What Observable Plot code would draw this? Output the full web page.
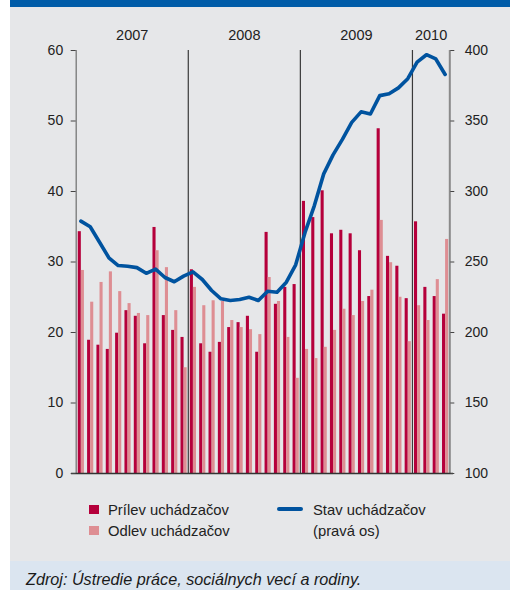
<!DOCTYPE html>
<html>
<head>
<meta charset="utf-8">
<script src="https://cdn.jsdelivr.net/npm/d3@7"></script>
<script src="https://cdn.jsdelivr.net/npm/@observablehq/plot@0.6"></script>
<style>
  html, body { margin: 0; padding: 0; background: #ffffff; }
  #page { position: relative; width: 510px; height: 590px; overflow: hidden; font-family: "Liberation Sans", Arial, sans-serif; color: #222; }
  #bg { position: absolute; left: 10px; top: 0; width: 500px; height: 590px; background: #e6e7e9; }
  #band { position: absolute; left: 10px; top: 0; width: 500px; height: 7px; background: #005ca8; }
  #foot { position: absolute; left: 10px; top: 561px; width: 500px; height: 29px; background: #dbe5f0; }
  #chart { position: absolute; left: 0; top: 0; }
  .lg { position: absolute; font-size: 14.8px; line-height: 16px; white-space: nowrap; color: #222; }
  .sw { position: absolute; }
  #cap { position: absolute; left: 26px; top: 570px; font-size: 16.2px; font-style: italic; line-height: 18px; color: #1a1a1a; white-space: nowrap; font-family: "Liberation Sans", Arial, sans-serif; }
</style>
</head>
<body>
<div id="page">
  <div id="bg"></div>
  <div id="band"></div>
  <div id="foot"></div>
  <div id="chart"></div>
  <div class="sw" style="left:89px;top:505px;width:10px;height:9px;background:#b5003b"></div>
  <div class="lg" style="left:108px;top:502px">Prílev uchádzačov</div>
  <div class="sw" style="left:89px;top:526px;width:10px;height:9px;background:#de8e93"></div>
  <div class="lg" style="left:108px;top:523px">Odlev uchádzačov</div>
  <div class="sw" style="left:277px;top:507px;width:26px;height:3.5px;background:#00539f;border-radius:2px"></div>
  <div class="lg" style="left:313px;top:502px">Stav uchádzačov</div>
  <div class="lg" style="left:313px;top:523px">(pravá os)</div>
  <div id="cap">Zdroj: Ústredie práce, sociálnych vecí a rodiny.</div>
</div>
<script>
const years = ["2007", "2008", "2009", "2010"];
const monthsPerYear = [12, 12, 12, 4];

const prilev = [34.3, 18.9, 18.2, 17.6, 19.9, 23.1, 22.3, 18.4, 34.9, 22.4, 20.3, 19.3,
                28.9, 18.4, 17.2, 18.6, 20.7, 21.4, 22.3, 17.2, 34.2, 24.0, 26.4, 26.8,
                38.6, 36.3, 40.1, 34.0, 34.5, 34.0, 31.6, 25.1, 48.9, 30.8, 29.4, 24.8,
                35.7, 26.4, 25.1, 22.6];
const odlev  = [28.8, 24.3, 27.1, 28.6, 25.8, 24.1, 22.7, 22.4, 31.6, 29.2, 23.1, 15.0,
                26.4, 23.8, 24.5, 24.4, 21.7, 20.7, 20.4, 19.7, 27.8, 24.4, 19.3, 13.5,
                17.6, 16.3, 17.9, 20.3, 23.3, 22.4, 24.4, 26.0, 35.9, 29.9, 25.0, 18.7,
                23.8, 21.7, 27.5, 33.2];
const stav   = [279, 275, 264, 253, 247.5, 247, 246, 242, 245, 239, 236, 240,
                243, 237.6, 229.8, 223.9, 222.7, 223.4, 225, 222.7, 229.3, 228.6, 235.7, 248,
                271, 290, 312.5, 326, 337, 349, 356.5, 355, 368, 369.3, 373.5, 380,
                391.7, 397, 394, 383];

const leftTicks = [0, 10, 20, 30, 40, 50, 60];
const rightTicks = [100, 150, 200, 250, 300, 350, 400];

const data = prilev.map((p, i) => ({i, prilev: p, odlev: odlev[i], stav: stav[i]}));
const nMonths = data.length;

let acc = 0;
const yearInfo = years.map((y, k) => {
  const start = acc; acc += monthsPerYear[k];
  return {year: y, start, end: acc, mid: (start + acc) / 2};
});
const dividers = yearInfo.slice(1).map(d => d.start);

const toLeft = v => (v - 100) / 5;

const plot = Plot.plot({
  width: 510,
  height: 490,
  marginLeft: 75.7,
  marginRight: 60.7,
  marginTop: 50,
  marginBottom: 17,
  style: {background: "transparent", fontFamily: "Liberation Sans, Arial, sans-serif", fontSize: "14px", color: "#222"},
  x: {domain: [0, nMonths], axis: null},
  y: {domain: [0, 60], axis: null},
  marks: [
    Plot.rectY(data, {x1: d => d.i + 0.22, x2: d => d.i + 0.55, y1: 0, y2: "prilev", fill: "#b5003b"}),
    Plot.rectY(data, {x1: d => d.i + 0.55, x2: d => d.i + 0.88, y1: 0, y2: "odlev", fill: "#de8e93"}),
    Plot.ruleX(dividers, {y1: 0, y2: 60, stroke: "#3a3a3a", strokeWidth: 1.2}),
    Plot.ruleX([0], {y1: 0, y2: 60, stroke: "#777", strokeWidth: 1.3}),
    Plot.ruleX([nMonths], {y1: 0, y2: 60, stroke: "#8a8a8a", strokeWidth: 2}),
    Plot.ruleY([0], {x1: -0.5, x2: nMonths + 0.4, stroke: "#333", strokeWidth: 1.5}),
    Plot.line(data, {x: d => d.i + 0.5, y: d => toLeft(d.stav), stroke: "#00539f", strokeWidth: 3.6, strokeLinejoin: "round", strokeLinecap: "round"}),
    Plot.axisY(leftTicks, {anchor: "left", tickSize: 5, tickPadding: 8, fontSize: 14, stroke: "#444"}),
    Plot.axisY(rightTicks.map(toLeft), {anchor: "right", tickSize: 4, tickPadding: 11, fontSize: 14, stroke: "#444", tickFormat: t => String(100 + 5 * t)}),
    Plot.text(yearInfo, {x: "mid", y: 60, text: "year", dy: -15, fontSize: 14.5, fill: "#222"})
  ]
});
document.getElementById("chart").appendChild(plot);
</script>
</body>
</html>
